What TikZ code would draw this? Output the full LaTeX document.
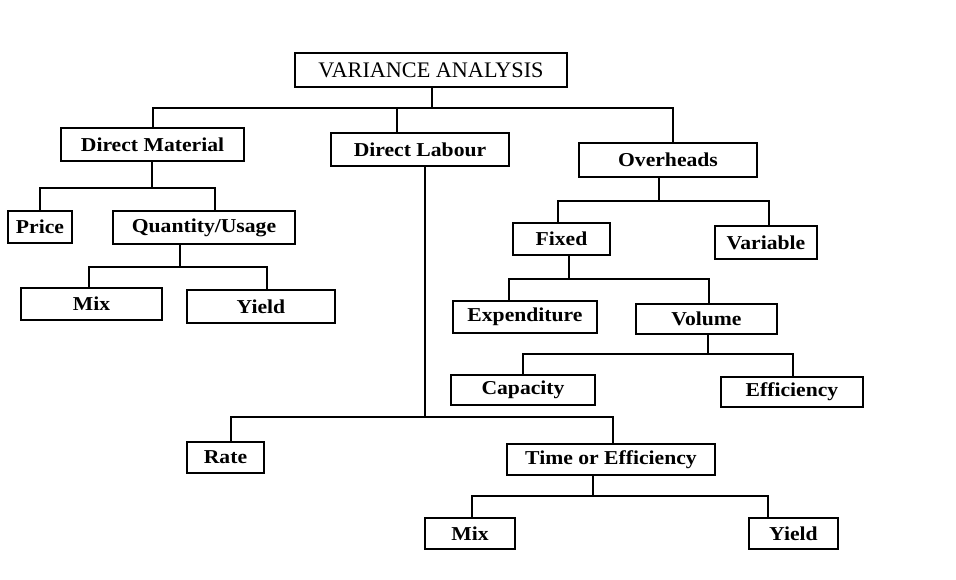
\documentclass[tikz,border=0pt]{standalone}
\usepackage{fontspec}
\setmainfont{Liberation Serif}
\newfontfamily\boxfont[FakeStretch=1.1]{Liberation Serif}
\usepackage{tikz}

\tikzset{
  box/.style={draw,line width=1.2pt,inner sep=0pt,
    font=\boxfont\bfseries\fontsize{14}{16}\selectfont},
  sz/.style 2 args={minimum width=#1*0.25mm,minimum height=#2*0.25mm},
  link/.style={line width=1.2pt},
}

\begin{document}
\begin{tikzpicture}[x=0.25mm,y=-0.25mm]
\useasboundingbox (0,0) rectangle (956,580);
% top
\node[box,sz={272}{34},font=\fontsize{15.8}{18}\selectfont] (root) at (431,70) {VARIANCE ANALYSIS};
\node[box,sz={183}{33}] (dm) at (152.5,144.5) {Direct Material};
\node[box,sz={178}{33}] (dl) at (420,149.5) {Direct Labour};
\node[box,sz={178}{34}] (oh) at (668,160) {Overheads};
% material side
\node[box,sz={64}{32}] (price) at (40,227) {Price};
\node[box,sz={182}{33}] (qty) at (204,227.5) {Quantity/Usage};
\node[box,sz={141}{32}] (mixm) at (91.5,304) {Mix};
\node[box,sz={148}{33}] (yieldm) at (261,306.5) {Yield};
% overheads side
\node[box,sz={97}{32}] (fixed) at (561.5,239) {Fixed};
\node[box,sz={102}{33}] (var) at (766,242.5) {Variable};
\node[box,sz={144}{32}] (exp) at (525,317) {Expenditure};
\node[box,sz={141}{30}] (vol) at (706.5,319) {Volume};
\node[box,sz={144}{30}] (cap) at (523,390) {Capacity};
\node[box,sz={142}{30}] (eff) at (792,392) {Efficiency};
% labour side
\node[box,sz={77}{31}] (rate) at (225.5,457.5) {Rate};
\node[box,sz={208}{31}] (time) at (611,459.5) {Time or Efficiency};
\node[box,sz={90}{31}] (mixl) at (470,533.5) {Mix};
\node[box,sz={89}{31}] (yieldl) at (793.5,533.5) {Yield};

% connectors
\draw[link] (root.south -| 432,0) -- (432,108);
\draw[link] (dm.north -| 153,0) |- (673,108) -- (oh.north -| 673,0);
\draw[link] (dl.north -| 397,0) -- (397,108);

\draw[link] (dm.south -| 152,0) -- (152,188);
\draw[link] (price.north -| 40,0) |- (215,188) -- (qty.north -| 215,0);

\draw[link] (qty.south -| 180,0) -- (180,267);
\draw[link] (mixm.north -| 89,0) |- (267,267) -- (yieldm.north -| 267,0);

\draw[link] (oh.south -| 659,0) -- (659,201);
\draw[link] (fixed.north -| 558,0) |- (769,201) -- (var.north -| 769,0);

\draw[link] (fixed.south -| 569,0) -- (569,279);
\draw[link] (exp.north -| 509,0) |- (709,279) -- (vol.north -| 709,0);

\draw[link] (vol.south -| 708,0) -- (708,354);
\draw[link] (cap.north -| 523,0) |- (793,354) -- (eff.north -| 793,0);

\draw[link] (dl.south -| 425,0) -- (425,417);
\draw[link] (rate.north -| 231,0) |- (613,417) -- (time.north -| 613,0);

\draw[link] (time.south -| 593,0) -- (593,496);
\draw[link] (mixl.north -| 472,0) |- (768,496) -- (yieldl.north -| 768,0);
\end{tikzpicture}
\end{document}
